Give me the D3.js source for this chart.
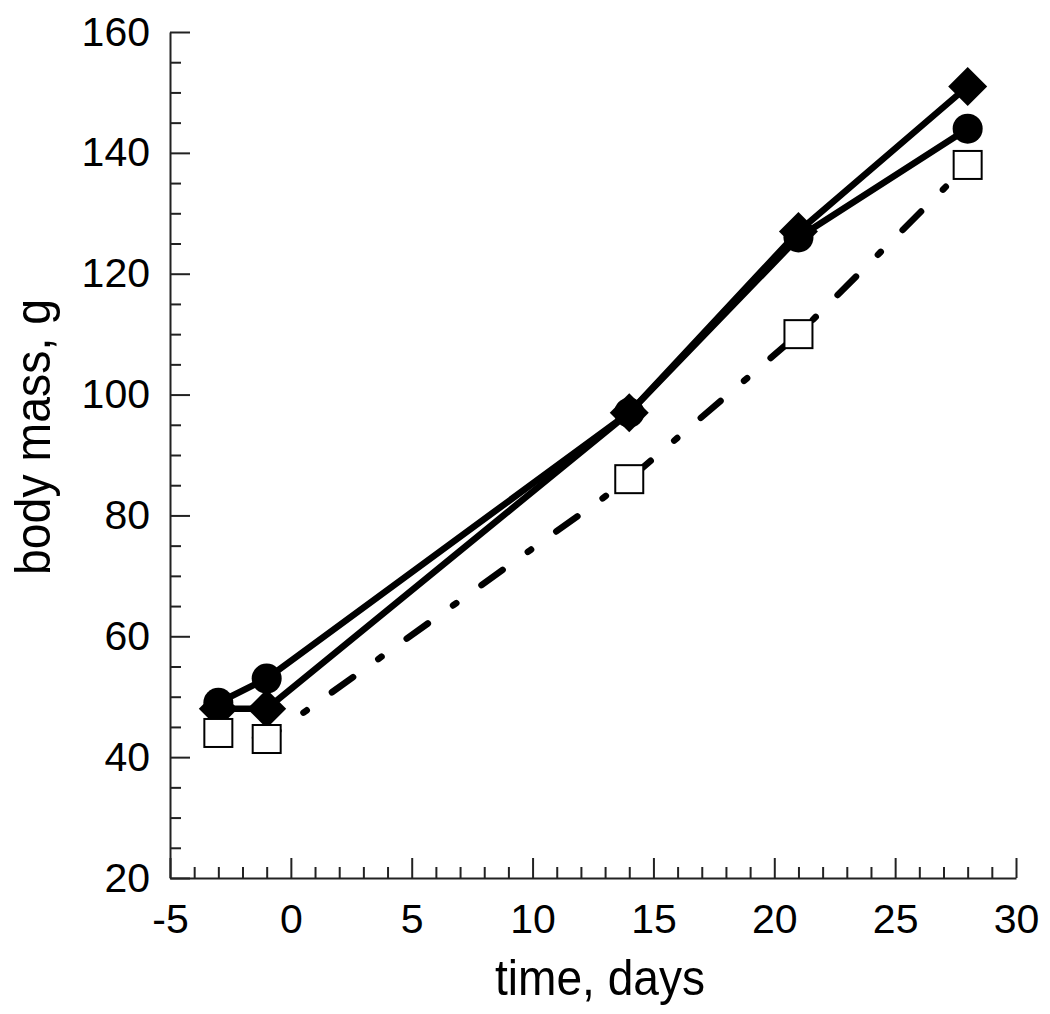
<!DOCTYPE html>
<html>
<head>
<meta charset="utf-8">
<script src="https://cdn.jsdelivr.net/npm/d3@7"></script>
<style>
  html, body { margin: 0; padding: 0; background: #fff; }
  svg { display: block; font-family: "Liberation Sans", Arial, Helvetica, sans-serif; }
</style>
</head>
<body>
<svg id="chart" width="1050" height="1014"></svg>
<script>
// ---- data ----
const days = [-3, -1, 14, 21, 28];
const massCircle = [49, 53, 97, 126, 144];
const massDiamond = [48, 48, 97, 127, 151];
const massSquare = [44, 43, 86, 110, 138];
const xTickValues = [-5, 0, 5, 10, 15, 20, 25, 30];
const yTickValues = [20, 40, 60, 80, 100, 120, 140, 160];
const xLabel = "time, days";
const yLabel = "body mass, g";

const svg = d3.select("#chart");
const x = d3.scaleLinear().domain([-5, 30]).range([170, 1016]);
const y = d3.scaleLinear().domain([20, 160]).range([878, 32]);

const axisColor = "#222";
const fmt = d => String(d);

// minor ticks
const xMinor = d3.range(-4, 31, 1).filter(v => v % 5 !== 0);
const yMinor = d3.range(25, 160, 5).filter(v => v % 20 !== 0);

const gxMinor = svg.append("g").attr("transform", `translate(0,${y(20)})`)
  .call(d3.axisBottom(x).tickValues(xMinor).tickSizeInner(-11).tickSizeOuter(0).tickFormat(""));
const gyMinor = svg.append("g").attr("transform", `translate(${x(-5)},0)`)
  .call(d3.axisLeft(y).tickValues(yMinor).tickSizeInner(-11).tickSizeOuter(0).tickFormat(""));
[gxMinor, gyMinor].forEach(g => {
  g.select(".domain").remove();
  g.selectAll("line").attr("stroke", axisColor).attr("stroke-width", 2);
});

const gx = svg.append("g").attr("transform", `translate(0,${y(20)})`)
  .call(d3.axisBottom(x).tickValues(xTickValues).tickFormat(fmt).tickSizeInner(-20).tickSizeOuter(0).tickPadding(26));
const gy = svg.append("g").attr("transform", `translate(${x(-5)},0)`)
  .call(d3.axisLeft(y).tickValues(yTickValues).tickFormat(fmt).tickSizeInner(-20).tickSizeOuter(0).tickPadding(20));
[gx, gy].forEach(g => {
  g.select(".domain").attr("stroke", axisColor).attr("stroke-width", 2);
  g.selectAll("line").attr("stroke", axisColor).attr("stroke-width", 2);
  g.selectAll("text").attr("font-size", 41).attr("fill", "#000")
    .attr("font-family", "'Liberation Sans', Arial, sans-serif");
});

// axis titles
svg.append("text")
  .attr("x", 600).attr("y", 995)
  .attr("text-anchor", "middle")
  .attr("font-size", 50)
  .attr("textLength", 210).attr("lengthAdjust", "spacingAndGlyphs")
  .text(xLabel);
svg.append("text")
  .attr("transform", "translate(50,437) rotate(-90)")
  .attr("text-anchor", "middle")
  .attr("font-size", 50)
  .attr("textLength", 276).attr("lengthAdjust", "spacingAndGlyphs")
  .text(yLabel);

// lines
const line = d3.line().x(d => x(d[0])).y(d => y(d[1]));
const circlePts = days.map((d, i) => [d, massCircle[i]]);
const diamondPts = days.map((d, i) => [d, massDiamond[i]]);
const squarePts = days.map((d, i) => [d, massSquare[i]]);

svg.append("path").attr("d", line(circlePts))
  .attr("fill", "none").attr("stroke", "#000").attr("stroke-width", 6.5).attr("stroke-linejoin", "round");
svg.append("path").attr("d", line(diamondPts))
  .attr("fill", "none").attr("stroke", "#000").attr("stroke-width", 6.5).attr("stroke-linejoin", "round");
svg.append("path").attr("d", line(squarePts))
  .attr("fill", "none").attr("stroke", "#000").attr("stroke-width", 6.5)
  .attr("stroke-linecap", "round")
  .attr("stroke-dasharray", "26,31,4,31")
  .attr("stroke-dashoffset", -37);

// markers
svg.append("g").selectAll("circle").data(circlePts).join("circle")
  .attr("cx", d => x(d[0])).attr("cy", d => y(d[1])).attr("r", 15).attr("fill", "#000");

const dh = 19.5;
svg.append("g").selectAll("path").data(diamondPts).join("path")
  .attr("transform", d => `translate(${x(d[0])},${y(d[1])})`)
  .attr("d", `M0,${-dh}L${dh},0L0,${dh}L${-dh},0Z`).attr("fill", "#000");

svg.append("g").selectAll("rect").data(squarePts).join("rect")
  .attr("x", d => x(d[0]) - 14).attr("y", d => y(d[1]) - 14)
  .attr("width", 28).attr("height", 28)
  .attr("fill", "#fff").attr("stroke", "#000").attr("stroke-width", 2);
</script>
</body>
</html>
